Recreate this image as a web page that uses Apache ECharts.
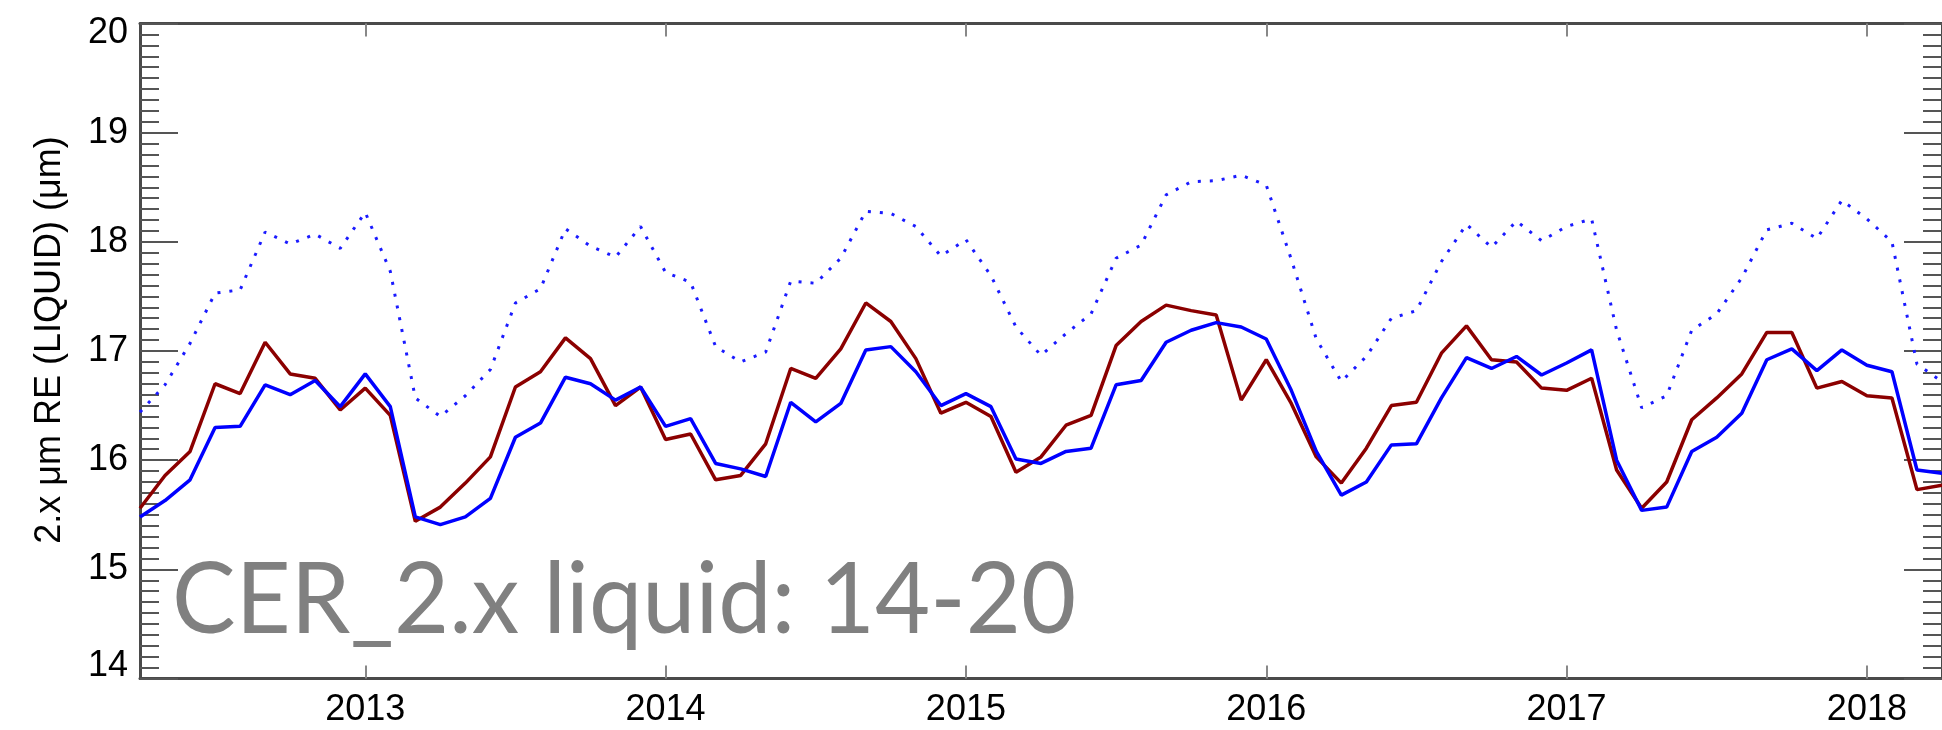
<!DOCTYPE html>
<html>
<head>
<meta charset="utf-8">
<title>CER 2.x liquid</title>
<script src="https://cdn.jsdelivr.net/npm/echarts@6/dist/echarts.min.js"></script>
<style>
  html, body { margin: 0; padding: 0; background: #ffffff; }
  #chart { width: 1942px; height: 730px; }
</style>
</head>
<body>
<div id="chart"></div>
<script>
// Monthly series, April 2012 through April 2018 (73 months)
const startYear = 2012;
const startMonth = 4;

// Effective radius, solid dark red
const redSeries = [
  15.56, 15.86, 16.08, 16.70, 16.61, 17.08, 16.79, 16.75, 16.46, 16.66, 16.41, 15.44,
  15.57, 15.79, 16.03, 16.67, 16.81, 17.12, 16.93, 16.50, 16.67, 16.19, 16.24, 15.82,
  15.86, 16.15, 16.84, 16.75, 17.02, 17.44, 17.27, 16.93, 16.43, 16.53, 16.40, 15.89,
  16.03, 16.32, 16.41, 17.05, 17.27, 17.42, 17.37, 17.33, 16.55, 16.92, 16.52, 16.03,
  15.79, 16.11, 16.50, 16.53, 16.98, 17.23, 16.92, 16.90, 16.66, 16.64, 16.75, 15.91,
  15.56, 15.80, 16.37, 16.57, 16.79, 17.17, 17.17, 16.66, 16.72, 16.59, 16.57, 15.73,
  15.77
];

// Effective radius, solid blue
const blueSeries = [
  15.48, 15.63, 15.82, 16.30, 16.31, 16.69, 16.60, 16.73, 16.49, 16.79, 16.49, 15.48,
  15.41, 15.48, 15.65, 16.21, 16.34, 16.76, 16.70, 16.55, 16.67, 16.31, 16.38, 15.97,
  15.92, 15.85, 16.53, 16.35, 16.52, 17.01, 17.04, 16.81, 16.50, 16.61, 16.49, 16.01,
  15.97, 16.08, 16.11, 16.69, 16.73, 17.08, 17.19, 17.26, 17.22, 17.11, 16.64, 16.08,
  15.68, 15.80, 16.14, 16.15, 16.57, 16.94, 16.84, 16.95, 16.78, 16.89, 17.01, 16.00,
  15.54, 15.57, 16.08, 16.21, 16.43, 16.92, 17.02, 16.82, 17.01, 16.87, 16.81, 15.91,
  15.88
];

// Effective radius, dotted blue
const dottedSeries = [
  16.44, 16.69, 17.07, 17.53, 17.56, 18.09, 17.98, 18.07, 17.94, 18.27, 17.73, 16.57,
  16.40, 16.59, 16.83, 17.44, 17.57, 18.12, 17.96, 17.86, 18.14, 17.72, 17.63, 17.04,
  16.90, 16.99, 17.64, 17.62, 17.85, 18.28, 18.26, 18.14, 17.87, 18.02, 17.69, 17.22,
  16.96, 17.16, 17.34, 17.85, 17.97, 18.43, 18.55, 18.56, 18.61, 18.52, 17.84, 17.11,
  16.72, 16.95, 17.30, 17.37, 17.82, 18.16, 17.95, 18.19, 18.01, 18.14, 18.21, 17.19,
  16.48, 16.59, 17.19, 17.34, 17.67, 18.11, 18.17, 18.03, 18.38, 18.21, 18.00, 16.88,
  16.72
];

const yearTicks = [2013, 2014, 2015, 2016, 2017, 2018];
const yTicks = [14, 15, 16, 17, 18, 19, 20];
const yTitle = '2.x \u03bcm RE (LIQUID) (\u03bcm)';
const panelTitle = 'CER_2.x liquid: 14-20';

// Decimal-year position of each month
const monthPos = redSeries.map((_, i) => startYear + (startMonth - 1 + i) / 12);
const pairs = arr => arr.map((v, i) => [monthPos[i], v]);

const FONT = '"Liberation Sans", Arial, Helvetica, sans-serif';
const AXIS_COLOR = '#4a4a4a';

const chart = echarts.init(document.getElementById('chart'), null, { renderer: 'canvas' });

const xMin = monthPos[0];
const xMax = monthPos[monthPos.length - 1];

function yAxisDef(position, showLabels) {
  return {
    type: 'value',
    position: position,
    min: yTicks[0],
    max: yTicks[yTicks.length - 1],
    interval: 1,
    axisLine: { show: true, lineStyle: { color: AXIS_COLOR, width: 3 } },
    axisTick: { show: true, inside: true, length: 38, lineStyle: { color: '#555', width: 2 } },
    minorTick: { show: true, splitNumber: 10, length: 19, lineStyle: { color: '#555', width: 2 } },
    splitLine: { show: false },
    minorSplitLine: { show: false },
    axisLabel: {
      show: showLabels,
      margin: 12,
      fontSize: 36,
      fontFamily: FONT,
      color: '#000',
      formatter: v => v === yTicks[yTicks.length - 1] ? '{t|' + v + '}'
                    : v === yTicks[0] ? '{b|' + v + '}' : String(v),
      rich: {
        t: { fontSize: 36, fontFamily: FONT, color: '#000', padding: [20, 0, 0, 0] },
        b: { fontSize: 36, fontFamily: FONT, color: '#000', padding: [0, 0, 25, 0] }
      }
    }
  };
}

function xAxisDef(position, showLabels) {
  return {
    type: 'value',
    position: position,
    min: xMin,
    max: xMax,
    axisLine: { show: true, onZero: false, lineStyle: { color: AXIS_COLOR, width: 3 } },
    axisTick: { show: true, inside: true, length: 13, customValues: yearTicks,
                lineStyle: { color: '#888', width: 2 } },
    splitLine: { show: false },
    axisLabel: {
      show: showLabels,
      customValues: yearTicks,
      margin: 14,
      fontSize: 36,
      fontFamily: FONT,
      color: '#000',
      formatter: v => String(v)
    }
  };
}

const option = {
  animation: false,
  backgroundColor: '#ffffff',
  textStyle: { fontFamily: FONT },
  grid: { left: 140, top: 23.5, width: 1812.5, height: 655, containLabel: false },
  xAxis: [xAxisDef('bottom', true), xAxisDef('top', false)],
  yAxis: [yAxisDef('left', true), yAxisDef('right', false)],
  series: [
    {
      name: 'dotted', type: 'line', data: pairs(dottedSeries), xAxisIndex: 0, yAxisIndex: 0,
      showSymbol: false, symbol: 'none', z: 2,
      lineStyle: { color: '#1a1aff', width: 3, type: [3, 9], cap: 'butt' }
    },
    {
      name: 'red', type: 'line', data: pairs(redSeries), xAxisIndex: 0, yAxisIndex: 0,
      showSymbol: false, symbol: 'none', z: 3,
      lineStyle: { color: '#8b0000', width: 3.5 }
    },
    {
      name: 'blue', type: 'line', data: pairs(blueSeries), xAxisIndex: 0, yAxisIndex: 0,
      showSymbol: false, symbol: 'none', z: 4,
      lineStyle: { color: '#0000ff', width: 3.5 }
    }
  ],
  graphic: [
    {
      type: 'text', x: 50, y: 340, rotation: Math.PI / 2, z: 10,
      style: { text: yTitle, font: '36px ' + FONT, fill: '#000', align: 'center', verticalAlign: 'middle' }
    },
    {
      type: 'text', x: 172, y: 601, scaleX: 0.972, z: 10,
      style: { text: panelTitle, font: '98px Lato, "Open Sans", sans-serif', fill: '#808080',
               align: 'left', verticalAlign: 'middle' }
    }
  ]
};

chart.setOption(option);
</script>
</body>
</html>
